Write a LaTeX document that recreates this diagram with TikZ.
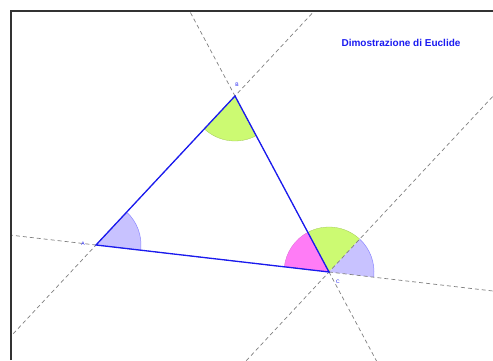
\documentclass[tikz,border=0pt]{standalone}
\usepackage{fontspec}
\usepackage{xcolor}
\usepackage{tikz}
\usetikzlibrary{calc,angles}
\newfontfamily\eufont{Liberation Sans}
\definecolor{eublue}{HTML}{1A1AF0}
\definecolor{eulilac}{HTML}{C8C2FF}
\definecolor{eulime}{HTML}{CCFA72}
\definecolor{eupink}{HTML}{FF7CF6}
\tikzset{
  euframe/.style={line width=1.6pt, draw=black!80, line cap=butt},
  euside/.style={line width=1.3pt, draw=eublue, line cap=round},
  eudash/.style={line width=0.7pt, draw=black!50, dash pattern=on 4pt off 3pt},
  eulilacsec/.style={fill=eulilac, draw=eulilac!70!blue, line width=0.5pt, angle radius=45pt},
  eulimesec/.style={fill=eulime, draw=eulime!80!black, line width=0.3pt, angle radius=45pt},
  eupinksec/.style={fill=eupink, draw=eupink!85!black, line width=0.3pt, angle radius=45pt},
  eulabel/.style={font=\eufont\fontsize{5}{5}\selectfont, text=eublue, inner sep=0pt},
}
\begin{document}
\begin{tikzpicture}[x=1pt,y=1pt]
\useasboundingbox (0,0) rectangle (493,360);
% vertices
\coordinate (A) at (96,115);
\coordinate (B) at (235,264);
\coordinate (C) at (329,88);
\coordinate (D) at ($(C)+(B)-(A)$);
\coordinate (E) at ($(C)!-1!(A)$);
% angles
\pic[eulilacsec] {angle=C--A--B};
\pic[eulimesec] {angle=A--B--C};
\pic[eupinksec] {angle=B--C--A};
\pic[eulimesec] {angle=D--C--B};
\pic[eulilacsec] {angle=E--C--D};
% construction lines
\begin{scope}
\clip (11,0) rectangle (493,349);
\draw[eudash] ($(A)!-3!(C)$) -- ($(A)!4!(C)$);
\draw[eudash] ($(A)!-3!(B)$) -- ($(A)!4!(B)$);
\draw[eudash] ($(B)!-3!(C)$) -- ($(B)!4!(C)$);
\draw[eudash] ($(C)!-3!(D)$) -- ($(C)!4!(D)$);
\end{scope}
% triangle
\draw[euside] (A) -- (B) -- (C) -- cycle;
\node[eulabel] (la) at (83,116) {A};
\node[eulabel] (lb) at (237,275) {B};
\node[eulabel] (lc) at (338,78) {C};
% frame
\draw[euframe] (11,0) -- (11,349) -- (493,349);
\node[font=\eufont\bfseries\fontsize{10}{11}\selectfont, text=eublue] (title) at (401,317) {Dimostrazione di Euclide};
\end{tikzpicture}
\end{document}
